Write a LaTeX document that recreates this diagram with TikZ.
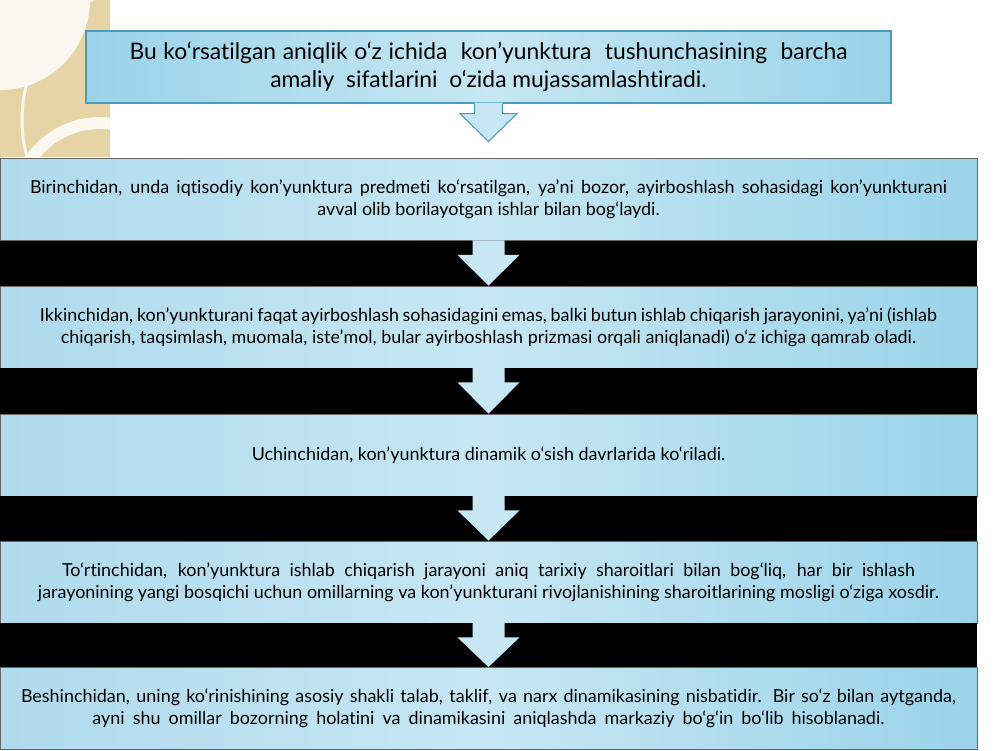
\documentclass[tikz,border=0pt]{standalone}
\usepackage{fontspec}
\setmainfont{Lato}[Ligatures=NoCommon]
\usetikzlibrary{positioning,calc}
\usepackage{xcolor}

\definecolor{boxlight}{HTML}{C6E7F3}
\definecolor{boxedge}{HTML}{AFDBED}
\definecolor{boxdark}{HTML}{9AD3E9}
\definecolor{boxline}{HTML}{4A9CBD}
\definecolor{beige}{HTML}{E6D4A6}
\definecolor{cream}{HTML}{FBF8F1}

\begin{document}
\begin{tikzpicture}
      \tikzstyle{headbox} = [rectangle, draw=boxline, line width=0.6pt, left color=boxdark, right color=boxdark, middle color=boxlight, minimum width=16.1cm, minimum height=1.44cm, align=center, font=\fontsize{13}{15.9}\selectfont]
      \tikzstyle{stepbox} = [rectangle, draw=black!60, line width=0.5pt, left color=boxedge, right color=boxdark, middle color=boxlight, minimum width=19.54cm, minimum height=1.64cm, align=center, font=\fontsize{10.2}{12.5}\selectfont]
      \tikzstyle{flow} = [fill=boxlight]

      \useasboundingbox (0,0) rectangle (20,-15);

      % corner ornament
      \begin{scope}
        \clip (0,0) rectangle (2.2,-3.14);
        \fill[beige] (0,0) rectangle (2.2,-3.14);
        \fill[cream] (0,0) circle (1.8);
        \draw[cream, line width=1.7pt] (3.2,-2.4) circle (2.76);
        \draw[cream, line width=6.8pt] (2,-4.14) circle (1.68);
      \end{scope}

      \node[headbox] (top) at (9.77,-1.34) {\makebox[14.36cm][s]{Bu ko‘rsatilgan aniqlik o‘z ichida\ \ kon’yunktura\ \ tushunchasining\ \ barcha}\\ amaliy\ \ sifatlarini\ \ o‘zida mujassamlashtiradi.};

      \node[stepbox] (b1) at (9.77,-3.99) {\makebox[18.34cm][s]{Birinchidan, unda iqtisodiy kon’yunktura predmeti ko‘rsatilgan, ya’ni bozor, ayirboshlash sohasidagi kon’yunkturani}\\ avval olib borilayotgan ishlar bilan bog‘laydi.};
      \node[stepbox] (b2) at (9.77,-6.54) {\makebox[17.94cm][s]{Ikkinchidan, kon’yunkturani faqat ayirboshlash sohasidagini emas, balki butun ishlab chiqarish jarayonini, ya’ni (ishlab}\\ chiqarish, taqsimlash, muomala, iste’mol, bular ayirboshlash prizmasi orqali aniqlanadi) o‘z ichiga qamrab oladi.};
      \node[stepbox] (b3) at (9.77,-9.10) {Uchinchidan, kon’yunktura dinamik o‘sish davrlarida ko‘riladi.};
      \node[stepbox] (b4) at (9.77,-11.64) {\makebox[17.06cm][s]{To‘rtinchidan, kon’yunktura ishlab chiqarish jarayoni aniq tarixiy sharoitlari bilan bog‘liq, har bir ishlash}\\ jarayonining yangi bosqichi uchun omillarning va kon’yunkturani rivojlanishining sharoitlarining mosligi o‘ziga xosdir.};
      \node[stepbox] (b5) at (9.77,-14.17) {\makebox[18.7cm][s]{Beshinchidan, uning ko‘rinishining asosiy shakli talab, taklif, va narx dinamikasining nisbatidir. Bir so‘z bilan aytganda,}\\ \makebox[15.84cm][s]{ayni shu omillar bozorning holatini va dinamikasini aniqlashda markaziy bo‘g‘in bo‘lib hisoblanadi.}};

      % black bands between the steps
      \fill[black] (b1.south west) rectangle (b2.north east);
      \fill[black] (b2.south west) rectangle (b3.north east);
      \fill[black] (b3.south west) rectangle (b4.north east);
      \fill[black] (b4.south west) rectangle (b5.north east);

      % block arrows
      \coordinate[below=0.76cm of top.south] (tip);
      \fill[flow] ($(top.south)+(-0.28,0.02)$) |- ($(top.south)+(-0.57,-0.2)$) -- (tip) -- ($(top.south)+(0.57,-0.2)$) -| ($(top.south)+(0.28,0.02)$) -- cycle;
      \draw[boxline, line width=0.6pt] ($(top.south)+(-0.28,0)$) |- ($(top.south)+(-0.57,-0.2)$) -- (tip) -- ($(top.south)+(0.57,-0.2)$) -| ($(top.south)+(0.28,0)$);

      \fill[flow] ($(b1.south)+(-0.32,0.01)$) |- ($(b1.south)+(-0.62,-0.28)$) -- (b2.north) -- ($(b1.south)+(0.62,-0.28)$) -| ($(b1.south)+(0.32,0.01)$) -- cycle;
      \fill[flow] ($(b2.south)+(-0.32,0.01)$) |- ($(b2.south)+(-0.62,-0.28)$) -- (b3.north) -- ($(b2.south)+(0.62,-0.28)$) -| ($(b2.south)+(0.32,0.01)$) -- cycle;
      \fill[flow] ($(b3.south)+(-0.32,0.01)$) |- ($(b3.south)+(-0.62,-0.28)$) -- (b4.north) -- ($(b3.south)+(0.62,-0.28)$) -| ($(b3.south)+(0.32,0.01)$) -- cycle;
      \fill[flow] ($(b4.south)+(-0.32,0.01)$) |- ($(b4.south)+(-0.62,-0.28)$) -- (b5.north) -- ($(b4.south)+(0.62,-0.28)$) -| ($(b4.south)+(0.32,0.01)$) -- cycle;
\end{tikzpicture}
\end{document}
